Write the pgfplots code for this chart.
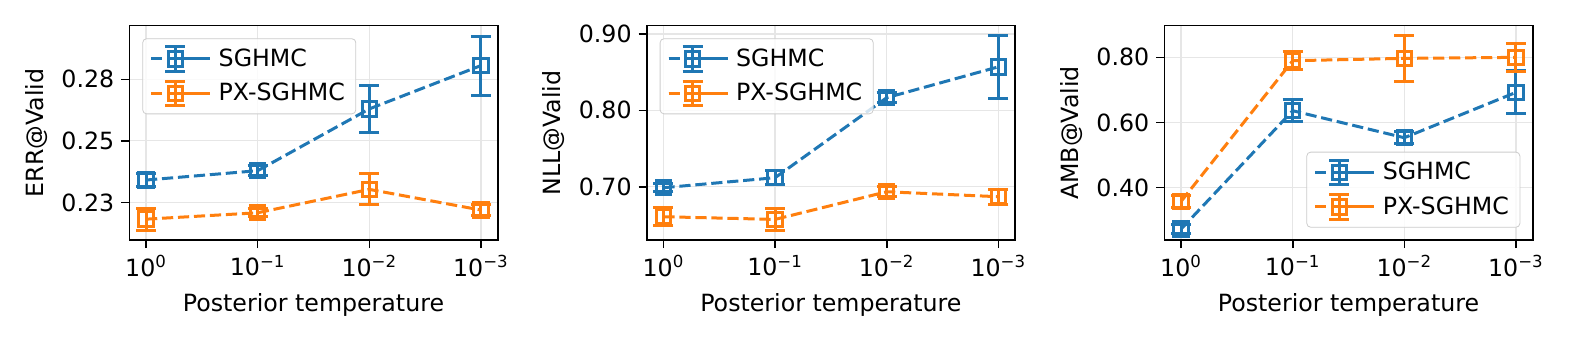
\documentclass[border=0pt]{standalone}
\usepackage{fontspec}
\setmainfont{DejaVu Sans}
\usepackage{pgfplots}
\pgfplotsset{compat=1.18}

\definecolor{c0}{HTML}{1F77B4}
\definecolor{c1}{HTML}{FF7F0E}
\definecolor{gridgray}{HTML}{E6E6E6}
\definecolor{legendgray}{HTML}{CCCCCC}
\newcommand{\fs}{\fontsize{11.85}{14.2}\selectfont}

\pgfplotsset{
  panel/.style={
    scale only axis, width=184.2pt, height=107.2pt,
    xmin=-0.15, xmax=3.15, xtick={0,1,2,3},
    xticklabels={10\textsuperscript{0},10\textsuperscript{−1},10\textsuperscript{−2},10\textsuperscript{−3}},
    xtick pos=bottom, ytick pos=left,
    tick align=outside, major tick length=4pt,
    tick style={black, line width=0.8pt},
    axis line style={line width=0.8pt},
    grid=major, grid style={line width=0.6pt, color=gridgray},
    xlabel={Posterior temperature},
    every axis x label/.style={at={(rel axis cs:0.5,0)}, yshift=-32.5pt, anchor=center, font=\fs},
    every axis y label/.style={at={(rel axis cs:0,0.5)}, xshift=-46.4pt, rotate=90, anchor=center, font=\fs},
    tick label style={font=\fs},
    legend cell align=left,
    legend style={draw=legendgray, rounded corners=2pt, fill=white, fill opacity=0.8,
      text opacity=1, draw opacity=1, font=\fs, inner xsep=3.5pt, inner ysep=3pt, row sep=3pt},
    legend image code/.code={
      \draw[##1, sharp corners, solid, line width=1.5pt] (0pt,0pt) -- (5pt,0pt) (19pt,0pt) -- (24pt,0pt)
        (8.4pt,0pt) -- (15.6pt,0pt);
      \draw[##1, sharp corners, solid, line width=1.5pt] (12pt,-6.2pt) -- (12pt,6.2pt)
        (7pt,-6.2pt) -- (17pt,-6.2pt) (7pt,6.2pt) -- (17pt,6.2pt);
      \draw[##1, sharp corners, solid, line width=1.5pt] (8.4pt,-3.6pt) rectangle (15.6pt,3.6pt);
      \path (0pt,0pt) -- (31pt,0pt);
    },
  },
  ser/.style={color=#1, line width=1.5pt, dash pattern=on 5.6pt off 2.4pt,
    mark=square, mark size=3.6pt, mark options={solid, line width=1.5pt, fill=none},
    error bars/y dir=both, error bars/y explicit,
    error bars/error bar style={solid, line width=1.5pt},
    error bars/error mark options={solid, rotate=90, mark size=5pt, line width=1.5pt}},
}

\begin{document}
\begin{tikzpicture}
\useasboundingbox (0pt,-175.5pt) rectangle (789pt,0pt);

\begin{axis}[panel, at={(64.65pt,-12.85pt)}, anchor=north west,
  ymin=0.2097, ymax=0.2968, ytick={0.225,0.25,0.275}, yticklabels={0.23,0.25,0.28},
  ylabel={ERR@Valid},
  legend style={at={(rel axis cs:0,1)}, anchor=north west, xshift=6.5pt, yshift=-6.3pt}]
\addplot[ser=c0] coordinates {(0,0.2341) +- (0,0.0027) (1,0.2379) +- (0,0.0020) (2,0.2630) +- (0,0.0095) (3,0.2806) +- (0,0.0120)};
\addplot[ser=c1] coordinates {(0,0.2182) +- (0,0.0044) (1,0.2208) +- (0,0.0016) (2,0.2303) +- (0,0.0063) (3,0.2219) +- (0,0.0024)};
\legend{SGHMC, PX-SGHMC}
\end{axis}

\begin{axis}[panel, at={(323.35pt,-12.85pt)}, anchor=north west,
  ymin=0.6301, ymax=0.9109, ytick={0.7,0.8,0.9}, yticklabels={0.70,0.80,0.90},
  ylabel={NLL@Valid},
  legend style={at={(rel axis cs:0,1)}, anchor=north west, xshift=6.5pt, yshift=-6.3pt}]
\addplot[ser=c0] coordinates {(0,0.6987) +- (0,0.005) (1,0.7118) +- (0,0.009) (2,0.8166) +- (0,0.0066) (3,0.857) +- (0,0.041)};
\addplot[ser=c1] coordinates {(0,0.6607) +- (0,0.012) (1,0.6572) +- (0,0.0145) (2,0.6934) +- (0,0.0066) (3,0.6869) +- (0,0.0096)};
\legend{SGHMC, PX-SGHMC}
\end{axis}

\begin{axis}[panel, at={(582.15pt,-12.85pt)}, anchor=north west,
  ymin=0.238, ymax=0.8974, ytick={0.4,0.6,0.8}, yticklabels={0.40,0.60,0.80},
  ylabel={AMB@Valid},
  legend style={at={(rel axis cs:1,0)}, anchor=south east, xshift=-6.2pt, yshift=6.2pt}]
\addplot[ser=c0] coordinates {(0,0.2718) +- (0,0.015) (1,0.6359) +- (0,0.033) (2,0.5528) +- (0,0.018) (3,0.6923) +- (0,0.066)};
\addplot[ser=c1] coordinates {(0,0.3569) +- (0,0.018) (1,0.7897) +- (0,0.028) (2,0.7969) +- (0,0.070) (3,0.800) +- (0,0.043)};
\legend{SGHMC, PX-SGHMC}
\end{axis}
\end{tikzpicture}
\end{document}
